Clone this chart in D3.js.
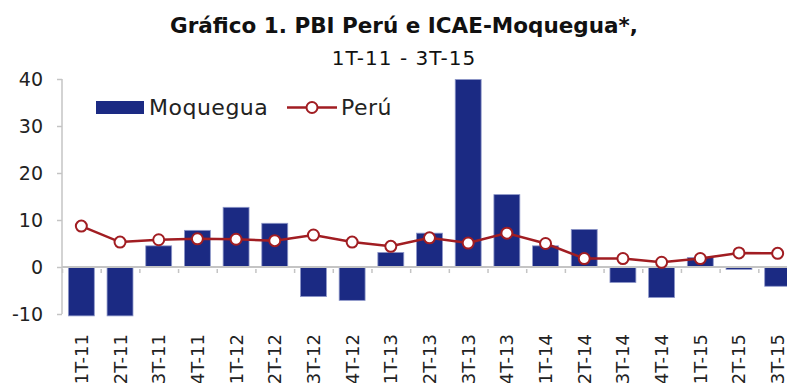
<!DOCTYPE html>
<html>
<head>
<meta charset="utf-8">
<script src="https://cdn.jsdelivr.net/npm/d3@7"></script>
<style>
  html, body { margin: 0; padding: 0; background: #fff; }
  svg { display: block; font-family: "DejaVu Sans", "Noto Sans", sans-serif; }
</style>
</head>
<body>
<svg id="chart" width="787" height="383"></svg>
<script>
// Quarterly growth rates (%), 1T-11 to 3T-15
const quarters = ["1T-11","2T-11","3T-11","4T-11","1T-12","2T-12","3T-12","4T-12",
  "1T-13","2T-13","3T-13","4T-13","1T-14","2T-14","3T-14","4T-14","1T-15","2T-15","3T-15"];
const moquegua = [-10.4,-10.4,4.5,7.8,12.7,9.3,-6.3,-7.1,3.1,7.2,39.9,15.4,4.5,8.0,-3.3,-6.5,2.0,-0.5,-4.1];
const peru = [8.7,5.3,5.8,6.0,5.9,5.6,6.8,5.3,4.4,6.2,5.1,7.2,5.0,1.8,1.8,1.0,1.8,3.0,2.9];
const yTicks = [-10,0,10,20,30,40];

const barColor = "#1b2a83";
const lineColor = "#a11d22";
const axisColor = "#c4c4c4";

const svg = d3.select("#chart");
const plotLeft = 62, plotRight = 797, plotTop = 79, plotBottom = 314;

const x = d3.scaleBand().domain(quarters).range([plotLeft, plotRight])
  .paddingInner(0.33).paddingOuter(0.165);
const xEdge = d3.scaleLinear().domain([0, quarters.length]).range([plotLeft, plotRight]);
const y = d3.scaleLinear().domain([-10, 40]).range([plotBottom, plotTop]);

// Title
svg.append("text").attr("x", 404).attr("y", 33).attr("text-anchor", "middle")
  .attr("font-weight", "bold").attr("font-size", 21.5).attr("fill", "#111")
  .text("Gráfico 1. PBI Perú e ICAE-Moquegua*,");
svg.append("text").attr("x", 404).attr("y", 65).attr("text-anchor", "middle")
  .attr("font-size", 20).attr("letter-spacing", 1).attr("fill", "#111")
  .text("1T-11 - 3T-15");

// Y axis
const yAxis = svg.append("g").attr("transform", `translate(${plotLeft},0)`)
  .call(d3.axisLeft(y).tickValues(yTicks).tickSize(5).tickPadding(14)
    .tickFormat(d => String(d)));
yAxis.select(".domain").attr("stroke", axisColor).attr("stroke-width", 1.5)
  .attr("d", `M0,${plotTop}V${plotBottom}`);
yAxis.selectAll(".tick line").attr("stroke", axisColor).attr("stroke-width", 1.5);
yAxis.selectAll(".tick text").attr("font-size", 19).attr("fill", "#222")
  .attr("font-family", "DejaVu Sans, sans-serif");

// Bars
svg.append("g").selectAll("rect").data(quarters).join("rect")
  .attr("x", d => x(d))
  .attr("width", x.bandwidth())
  .attr("y", (d, i) => y(Math.max(0, moquegua[i])))
  .attr("height", (d, i) => Math.abs(y(moquegua[i]) - y(0)))
  .attr("fill", barColor)
  .attr("stroke", "#8e97c9").attr("stroke-width", 0.8);

// X axis at zero with boundary ticks
const xAxis = svg.append("g").attr("transform", `translate(0,${y(0)})`)
  .call(d3.axisBottom(xEdge).tickValues(d3.range(0, quarters.length + 1))
    .tickSize(6).tickFormat(""));
xAxis.select(".domain").attr("stroke", axisColor).attr("stroke-width", 2)
  .attr("d", `M${plotLeft},0H${plotRight}`);
xAxis.selectAll(".tick line").attr("stroke", axisColor).attr("stroke-width", 1.5)
  .attr("y1", 2);

// Category labels, rotated
svg.append("g").selectAll("text").data(quarters).join("text")
  .attr("transform", d => `translate(${x(d) + x.bandwidth() / 2 + 6.5},334) rotate(-90)`)
  .attr("text-anchor", "end")
  .attr("font-size", 18).attr("fill", "#222")
  .text(d => d);

// Perú line
const line = d3.line().x((d, i) => x(quarters[i]) + x.bandwidth() / 2).y(d => y(d));
svg.append("path").datum(peru).attr("d", line)
  .attr("fill", "none").attr("stroke", lineColor).attr("stroke-width", 2.5);
svg.append("g").selectAll("circle").data(peru).join("circle")
  .attr("cx", (d, i) => x(quarters[i]) + x.bandwidth() / 2)
  .attr("cy", d => y(d))
  .attr("r", 5.5)
  .attr("fill", "#fff").attr("stroke", lineColor).attr("stroke-width", 2);

// Legend
const lg = svg.append("g");
lg.append("rect").attr("x", 96).attr("y", 101).attr("width", 48).attr("height", 13)
  .attr("fill", barColor);
lg.append("text").attr("x", 149).attr("y", 115).attr("font-size", 22)
  .attr("letter-spacing", 0.5).attr("fill", "#222")
  .text("Moquegua");
lg.append("line").attr("x1", 287).attr("x2", 337).attr("y1", 107.5).attr("y2", 107.5)
  .attr("stroke", lineColor).attr("stroke-width", 2.5);
lg.append("circle").attr("cx", 312).attr("cy", 107.5).attr("r", 5.5)
  .attr("fill", "#fff").attr("stroke", lineColor).attr("stroke-width", 2);
lg.append("text").attr("x", 341).attr("y", 115).attr("font-size", 22)
  .attr("letter-spacing", 0.5).attr("fill", "#222")
  .text("Perú");
</script>
</body>
</html>
